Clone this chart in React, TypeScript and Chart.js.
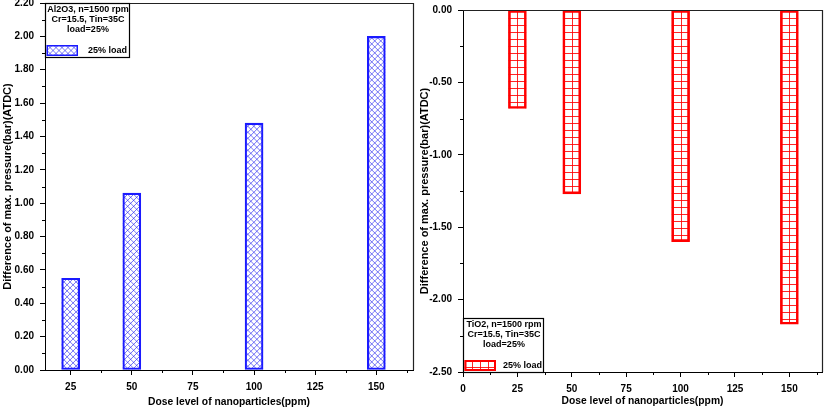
import React, { useEffect, useRef } from 'react';
import { Chart, registerables } from 'chart.js';

Chart.register(...registerables);

// ---- data ----
const doseAl = [25, 50, 100, 150];
const diffAl = [0.55, 1.06, 1.48, 2.0];
const doseTi = [25, 50, 100, 150];
const diffTi = [-0.68, -1.27, -1.6, -2.17];

const xTicksLeft = [25, 50, 75, 100, 125, 150];
const xMinorLeft = [37.5, 62.5, 87.5, 112.5, 137.5, 162.5];
const yTicksLeft = [0, 0.2, 0.4, 0.6, 0.8, 1.0, 1.2, 1.4, 1.6, 1.8, 2.0, 2.2];
const yMinorLeft = [0.1, 0.3, 0.5, 0.7, 0.9, 1.1, 1.3, 1.5, 1.7, 1.9, 2.1];

const xTicksRight = [0, 25, 50, 75, 100, 125, 150];
const xMinorRight = [12.5, 37.5, 62.5, 87.5, 112.5, 137.5, 162.5];
const yTicksRight = [-2.5, -2.0, -1.5, -1.0, -0.5, 0];
const yMinorRight = [-2.25, -1.75, -1.25, -0.75, -0.25];

const legendAl = ['Al2O3, n=1500 rpm', 'Cr=15.5, Tin=35C', 'load=25%'];
const legendTi = ['TiO2, n=1500 rpm', 'Cr=15.5, Tin=35C', 'load=25%'];
const seriesLabel = '25% load';
const xTitle = 'Dose level of nanoparticles(ppm)';
const yTitle = 'Difference of max. pressure(bar)(ATDC)';

const FONT = "'Liberation Sans', Arial, sans-serif";

function crossHatch(ctx: CanvasRenderingContext2D, x0: number, y0: number, x1: number, y1: number) {
  const step = 6;
  ctx.save();
  ctx.beginPath();
  ctx.rect(x0, y0, x1 - x0, y1 - y0);
  ctx.clip();
  ctx.strokeStyle = 'rgba(40,40,240,0.65)';
  ctx.lineWidth = 1;
  const h = y1 - y0;
  ctx.beginPath();
  for (let c = x0 - h - step * 2; c < x1 + step * 2; c += step) {
    ctx.moveTo(c, y0);
    ctx.lineTo(c + h, y1);
  }
  for (let c = x0 - step * 2; c < x1 + h + step * 2; c += step) {
    ctx.moveTo(c, y0);
    ctx.lineTo(c - h, y1);
  }
  ctx.stroke();
  ctx.restore();
}

function gridHatch(ctx: CanvasRenderingContext2D, x0: number, y0: number, x1: number, y1: number) {
  const stepX = 8;
  const stepY = 7;
  ctx.save();
  ctx.beginPath();
  ctx.rect(x0, y0, x1 - x0, y1 - y0);
  ctx.clip();
  ctx.strokeStyle = 'rgba(255,0,0,0.85)';
  ctx.lineWidth = 1;
  ctx.beginPath();
  const cx = Math.round((x0 + x1) / 2) + 0.5;
  for (let x = cx; x > x0 - 1; x -= stepX) {
    ctx.moveTo(x, y0);
    ctx.lineTo(x, y1);
  }
  for (let x = cx + stepX; x < x1 + 1; x += stepX) {
    ctx.moveTo(x, y0);
    ctx.lineTo(x, y1);
  }
  for (let y = Math.round(y0) + 0.5 + stepY; y < y1; y += stepY) {
    ctx.moveTo(x0, y);
    ctx.lineTo(x1, y);
  }
  ctx.stroke();
  ctx.restore();
}

type Side = {
  kind: 'cross' | 'grid';
  xMinor: number[];
  yMinor: number[];
  legend: string[];
  legendAtTop: boolean;
  boxW: number;
  labelOffset: number;
  border: string;
  borderW: number;
};

function makePlugin(side: Side) {
  return {
    id: 'deco_' + side.kind,
    beforeDatasetsDraw(chart: any) {
      const ctx = chart.ctx as CanvasRenderingContext2D;
      const meta = chart.getDatasetMeta(0);
      meta.data.forEach((el: any) => {
        const p = el.getProps(['x', 'y', 'base', 'width'], true);
        const l = p.x - p.width / 2;
        const r = p.x + p.width / 2;
        const t = Math.min(p.y, p.base);
        const b = Math.max(p.y, p.base);
        ctx.save();
        ctx.fillStyle = '#ffffff';
        ctx.fillRect(l, t, r - l, b - t);
        ctx.restore();
        if (side.kind === 'cross') crossHatch(ctx, l, t, r, b);
        else gridHatch(ctx, l, t, r, b);
      });
    },
    afterDraw(chart: any) {
      const ctx = chart.ctx as CanvasRenderingContext2D;
      const a = chart.chartArea;
      const xs = chart.scales.x;
      const ys = chart.scales.y;
      ctx.save();
      // frame top + right
      ctx.strokeStyle = '#222';
      ctx.lineWidth = 1.2;
      ctx.beginPath();
      ctx.moveTo(a.left, Math.round(a.top) + 0.5);
      ctx.lineTo(Math.round(a.right) + 0.5, Math.round(a.top) + 0.5);
      ctx.lineTo(Math.round(a.right) + 0.5, a.bottom);
      ctx.stroke();
      // minor ticks
      ctx.strokeStyle = '#000';
      ctx.lineWidth = 1;
      ctx.beginPath();
      side.xMinor.forEach((v) => {
        const px = Math.round(xs.getPixelForValue(v)) + 0.5;
        if (px < a.left || px > a.right) return;
        ctx.moveTo(px, a.bottom);
        ctx.lineTo(px, a.bottom + 3);
      });
      side.yMinor.forEach((v) => {
        const py = Math.round(ys.getPixelForValue(v)) + 0.5;
        ctx.moveTo(a.left - 3, py);
        ctx.lineTo(a.left, py);
      });
      ctx.stroke();

      // legend box
      const bw = side.boxW;
      const bh = 54;
      const bx = a.left;
      const by = side.legendAtTop ? a.top : a.bottom - bh;
      ctx.fillStyle = '#fff';
      ctx.fillRect(bx, by, bw, bh);
      ctx.strokeStyle = '#000';
      ctx.lineWidth = 1.2;
      ctx.strokeRect(Math.round(bx) + 0.5, Math.round(by) + 0.5, bw, bh);
      ctx.fillStyle = '#000';
      ctx.font = `bold 9px ${FONT}`;
      ctx.textAlign = 'center';
      ctx.textBaseline = 'middle';
      side.legend.forEach((line, i) => {
        ctx.fillText(line, bx + bw / 2 + 1, by + 6.5 + i * 10);
      });
      // swatch
      const sx0 = bx + 1.5;
      const sx1 = bx + 33;
      const sy0 = by + 42;
      const sy1 = by + 53;
      if (side.kind === 'cross') crossHatch(ctx, sx0, sy0, sx1, sy1);
      else gridHatch(ctx, sx0, sy0, sx1, sy1);
      ctx.strokeStyle = side.border;
      ctx.lineWidth = side.borderW;
      ctx.strokeRect(sx0 + side.borderW / 2, sy0 + side.borderW / 2, sx1 - sx0 - side.borderW, sy1 - sy0 - side.borderW);
      ctx.fillStyle = '#000';
      ctx.textAlign = 'left';
      ctx.fillText(seriesLabel, bx + side.labelOffset, by + 47.5);
      ctx.restore();
    },
  };
}

type Cfg = {
  dose: number[];
  vals: number[];
  xMin: number;
  xMax: number;
  yMin: number;
  yMax: number;
  xTicks: number[];
  yTicks: number[];
  side: Side;
  padTop: number;
  padRight: number;
  xAxisH: number;
  yLabelPad: number;
  yTitlePad: number;
  xLabelPad: number;
  xTitlePad: number;
  color: string;
};

function buildChart(canvas: HTMLCanvasElement, c: Cfg) {
  const tickFont = { family: FONT, size: 10, weight: 'bold' as const };
  const xTitleFont = { family: FONT, size: 10.3, weight: 'bold' as const };
  const yTitleFont = { family: FONT, size: 11, weight: 'bold' as const };
  return new Chart(canvas, {
    type: 'bar',
    data: {
      datasets: [
        {
          label: seriesLabel,
          data: c.dose.map((d, i) => ({ x: d, y: c.vals[i] })),
          backgroundColor: 'rgba(0,0,0,0)',
          borderColor: c.color,
          borderWidth: c.side.borderW,
          borderSkipped: false,
          barThickness: 18,
        } as any,
      ],
    },
    options: {
      responsive: false,
      animation: false,
      layout: { padding: { top: c.padTop, right: c.padRight, left: 0, bottom: 0 } },
      plugins: { legend: { display: false }, tooltip: { enabled: false } },
      scales: {
        x: {
          type: 'linear',
          min: c.xMin,
          max: c.xMax,
          offset: false,
          afterBuildTicks: (s: any) => {
            s.ticks = c.xTicks.map((v) => ({ value: v }));
          },
          afterFit: (s: any) => {
            s.height = c.xAxisH;
            s.paddingLeft = 0;
            s.paddingRight = 0;
          },
          grid: { display: true, drawOnChartArea: false, drawTicks: true, tickLength: 5, color: '#000', offset: false },
          border: { display: true, color: '#000', width: 1 },
          ticks: {
            color: '#000',
            font: tickFont,
            padding: c.xLabelPad,
            maxRotation: 0,
            autoSkip: false,
            callback: (v: any) => String(v),
          },
          title: { display: true, text: xTitle, color: '#000', font: xTitleFont, padding: { top: 0, bottom: c.xTitlePad } },
        } as any,
        y: {
          type: 'linear',
          min: c.yMin,
          max: c.yMax,
          afterBuildTicks: (s: any) => {
            s.ticks = c.yTicks.map((v) => ({ value: v }));
          },
          afterFit: (s: any) => {
            s.width = 45;
            s.paddingTop = 0;
            s.paddingBottom = 0;
          },
          grid: { display: true, drawOnChartArea: false, drawTicks: true, tickLength: 5, color: '#000' },
          border: { display: true, color: '#000', width: 1 },
          ticks: {
            color: '#000',
            font: tickFont,
            padding: c.yLabelPad,
            callback: (v: any) => Number(v).toFixed(2),
          },
          title: { display: true, text: yTitle, color: '#000', font: yTitleFont, padding: { top: c.yTitlePad, bottom: 0 } },
        } as any,
      },
    },
    plugins: [makePlugin(c.side) as any],
  });
}

export default function App() {
  const leftRef = useRef<HTMLCanvasElement>(null);
  const rightRef = useRef<HTMLCanvasElement>(null);

  useEffect(() => {
    const left = buildChart(leftRef.current!, {
      dose: doseAl,
      vals: diffAl,
      xMin: 14.5,
      xMax: 165,
      yMin: 0,
      yMax: 2.2,
      xTicks: xTicksLeft,
      yTicks: yTicksLeft,
      side: {
        kind: 'cross',
        xMinor: xMinorLeft,
        yMinor: yMinorLeft,
        legend: legendAl,
        legendAtTop: true,
        boxW: 84,
        labelOffset: 43,
        border: '#1a1aff',
        borderW: 1.5,
      },
      padTop: 3,
      padRight: 5,
      xAxisH: 46,
      yLabelPad: 6,
      yTitlePad: 1.5,
      xLabelPad: 6,
      xTitlePad: 8,
      color: '#1a1aff',
    });
    const right = buildChart(rightRef.current!, {
      dose: doseTi,
      vals: diffTi,
      xMin: 0,
      xMax: 165,
      yMin: -2.5,
      yMax: 0,
      xTicks: xTicksRight,
      yTicks: yTicksRight,
      side: {
        kind: 'grid',
        xMinor: xMinorRight,
        yMinor: yMinorRight,
        legend: legendTi,
        legendAtTop: false,
        boxW: 80,
        labelOffset: 40,
        border: '#ff0000',
        borderW: 2,
      },
      padTop: 10,
      padRight: 10,
      xAxisH: 44,
      yLabelPad: 6,
      yTitlePad: 0.5,
      xLabelPad: 6,
      xTitlePad: 9,
      color: '#ff0000',
    });
    return () => {
      left.destroy();
      right.destroy();
    };
  }, []);

  return (
    <div style={{ position: 'absolute', left: 0, top: 0, width: 832, height: 416, background: '#fff' }}>
      <canvas ref={leftRef} width={418} height={416} style={{ position: 'absolute', left: 0, top: 0, display: 'block' }} />
      <canvas ref={rightRef} width={414} height={416} style={{ position: 'absolute', left: 418, top: 0, display: 'block' }} />
    </div>
  );
}
